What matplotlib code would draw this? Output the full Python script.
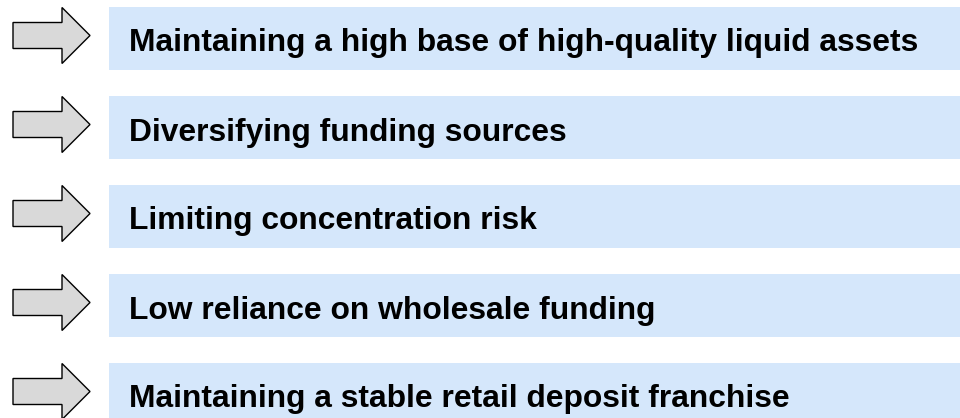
import matplotlib
matplotlib.use("Agg")
import matplotlib.pyplot as plt
from matplotlib.patches import Rectangle, Polygon

labels = [
    "Maintaining a high base of high-quality liquid assets",
    "Diversifying funding sources",
    "Limiting concentration risk",
    "Low reliance on wholesale funding",
    "Maintaining a stable retail deposit franchise",
]

W, H = 960, 418
fig = plt.figure(figsize=(9.6, 4.18), dpi=100)
ax = fig.add_axes([0, 0, 1, 1])
ax.set_xlim(0, W)
ax.set_ylim(H, 0)
ax.axis("off")

pitch = 89
box_top0 = 7
box_h = 63
box_x = 109
for i, lab in enumerate(labels):
    top = box_top0 + i * pitch
    cy = top + box_h / 2
    ax.add_patch(Rectangle((box_x, top), W - box_x + 5, box_h,
                           facecolor="#D5E7FB", edgecolor="none"))
    ax.text(129, top + 44.5, lab, fontsize=22.9, fontweight="bold",
            family=["Liberation Sans", "DejaVu Sans"], color="black",
            va="baseline", ha="left")
    ty = cy - 3
    pts = [(13, ty - 13), (62, ty - 13), (62, ty - 28), (90, ty),
           (62, ty + 28), (62, ty + 13), (13, ty + 13)]
    ax.add_patch(Polygon(pts, closed=True, facecolor="#D9D9D9",
                         edgecolor="black", linewidth=1.0))

fig.savefig("out.png", dpi=100)
